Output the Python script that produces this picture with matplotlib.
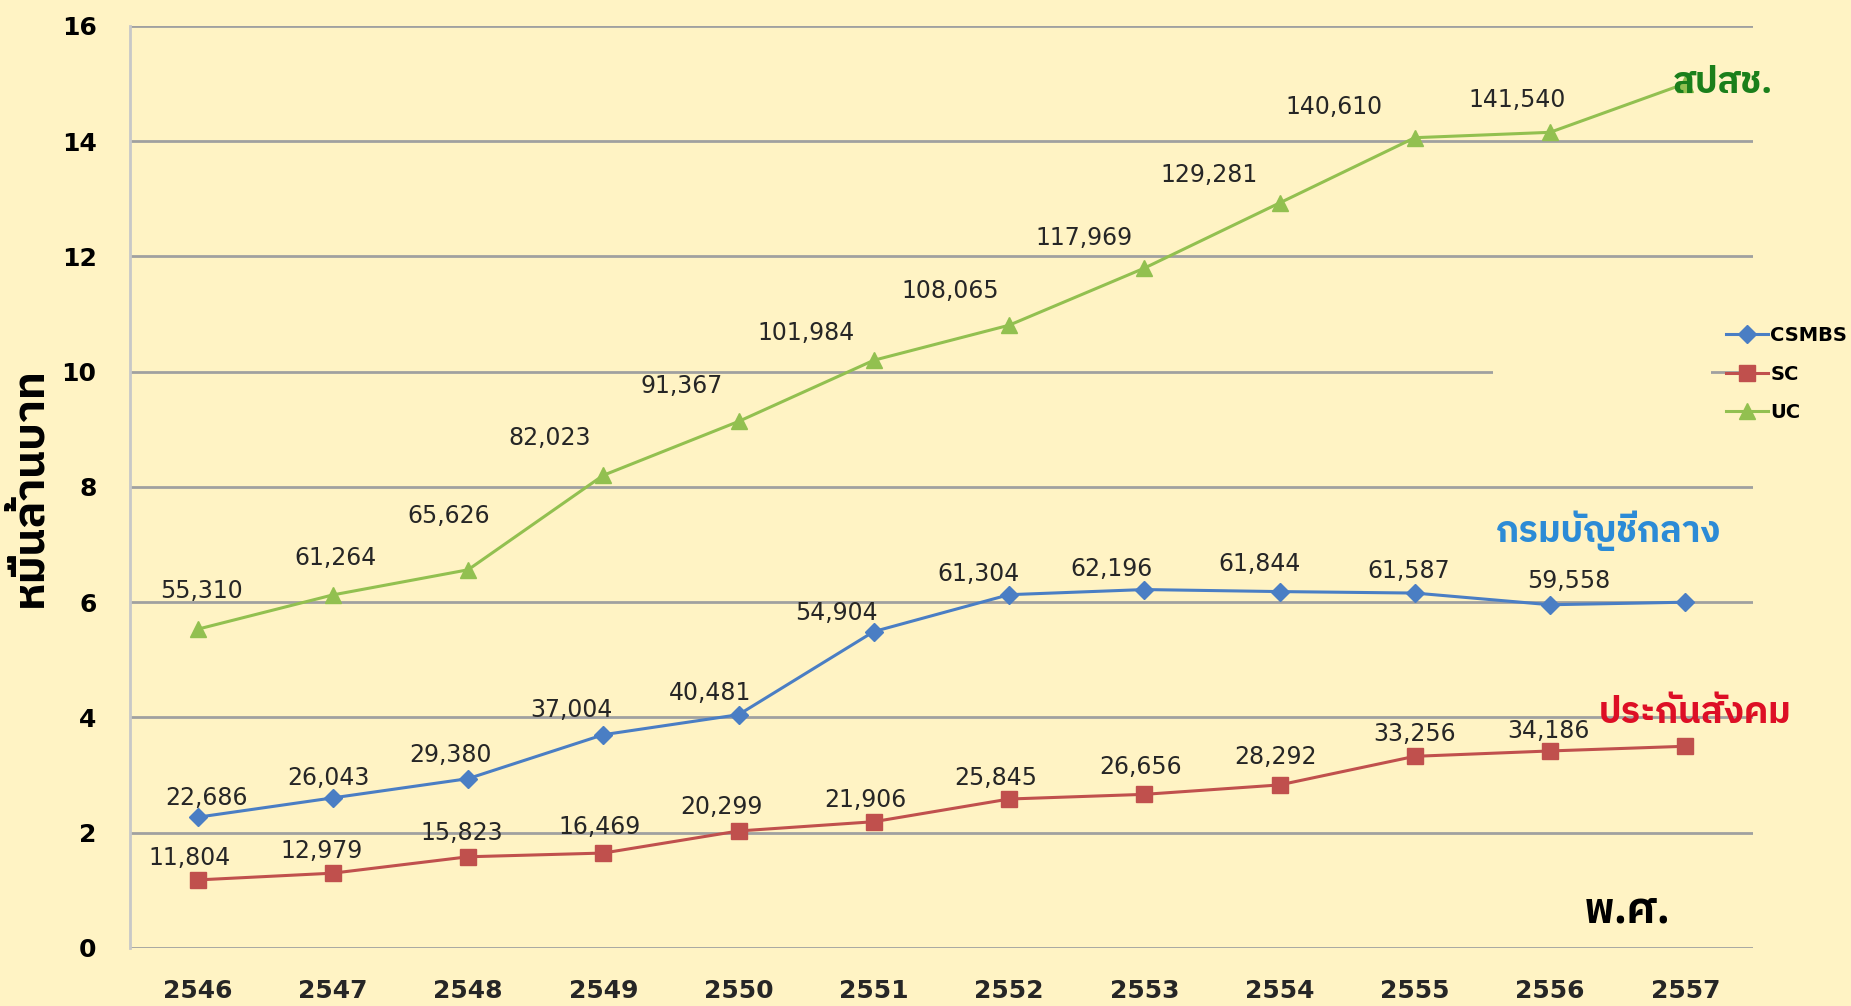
import numpy as np
import matplotlib
matplotlib.use('Agg')
import matplotlib.pyplot as plt
from matplotlib import font_manager
from matplotlib.ft2font import FT2Font
from matplotlib.patches import Rectangle


# ----- data (million baht) -----
years = ['2546', '2547', '2548', '2549', '2550', '2551',
         '2552', '2553', '2554', '2555', '2556', '2557']
csmbs = [22686, 26043, 29380, 37004, 40481, 54904,
         61304, 62196, 61844, 61587, 59558, 60000]
sc = [11804, 12979, 15823, 16469, 20299, 21906,
      25845, 26656, 28292, 33256, 34186, 35000]
uc = [55310, 61264, 65626, 82023, 91367, 101984,
      108065, 117969, 129281, 140610, 141540, 150000]
n_labelled = 11  # last year has no value label

# label offsets in pixels (dx, dy) - hand placed like the original
off_csmbs = [(9, 19), (-4, 20), (-18, 24), (-32, 25), (-28, 22), (-37, 19),
             (-31, 21), (-33, 21), (-20, 28), (-6, 22), (19, 24)]
off_sc = [(-8, 22), (-11, 22), (-6, 24), (-4, 26), (-17, 24), (-8, 22),
          (-13, 21), (-4, 27), (-4, 28), (0, 22), (-2, 20)]
off_uc = [(4, 38), (3, 37), (-19, 54), (-54, 37), (-57, 35), (-68, 27),
          (-59, 34), (-60, 30), (-70, 28), (-81, 31), (-33, 32)]

bg = '#FFF3C4'


def thai_family():
    # find an installed font that has Thai glyphs
    cands = sorted(font_manager.fontManager.ttflist,
                   key=lambda f: ('Thai' not in f.name, f.name))
    for f in cands:
        try:
            if 0x0E01 in FT2Font(f.fname).get_charmap():
                return f.name
        except Exception:
            pass
    return 'DejaVu Sans'


thai = [thai_family(), 'DejaVu Sans']
narrow = ['DejaVu Sans']

fig = plt.figure(figsize=(18.51, 10.06), dpi=100, facecolor=bg)
ax = fig.add_axes([0.0702, 0.0577, 0.8768, 0.9165])
ax.set_facecolor(bg)

x = np.arange(len(years))
to_unit = lambda v: np.array(v) / 10000.0

series = [
    ('CSMBS', csmbs, '#4A7EC4', 'D', 9, off_csmbs),
    ('SC', sc, '#C0504D', 's', 11, off_sc),
    ('UC', uc, '#92C050', '^', 11, off_uc),
]
for name, vals, col, mk, ms, offs in series:
    yv = to_unit(vals)
    ax.plot(x, yv, color=col, lw=2.2, marker=mk, ms=ms, label=name, zorder=3)
    for i in range(n_labelled):
        ax.annotate(f'{vals[i]:,}', (x[i], yv[i]), xytext=offs[i],
                    textcoords='offset pixels', ha='center', va='center',
                    fontsize=17, color='#262626', family=narrow, zorder=4)

ax.set_xlim(-0.5, len(years) - 0.5)
ax.set_ylim(0, 16)
ax.set_yticks(np.arange(0, 17, 2))
ax.set_xticks(x)
ax.set_xticklabels(years)
ax.yaxis.grid(True, color='#A0A0A0', lw=2)
ax.set_axisbelow(True)
for s in ['top', 'right', 'bottom']:
    ax.spines[s].set_visible(False)
ax.spines['left'].set_color('#C8C8C8')
ax.spines['left'].set_linewidth(2)
ax.tick_params(length=0)
ax.tick_params(axis='y', pad=24)
ax.tick_params(axis='x', pad=22)
for t in ax.get_yticklabels():
    t.set_fontsize(18)
    t.set_fontweight('bold')
    t.set_family(narrow)
for t in ax.get_xticklabels():
    t.set_fontsize(18)
    t.set_fontweight('bold')
    t.set_family(narrow)
    t.set_color('#262626')

ax.set_ylabel('หมื่นล้านบาท', fontsize=32, fontweight='bold', family=thai,
              labelpad=8)

# series captions
ax.text(11.28, 15.0, 'สปสช.', color='#1B7F1B', fontsize=26, fontweight='bold',
        family=thai, ha='center', va='center', zorder=5)
ax.text(10.43, 7.24, 'กรมบัญชีกลาง', color='#2C8BD6', fontsize=26,
        fontweight='bold', family=thai, ha='center', va='center')
ax.text(11.07, 4.06, 'ประกันสังคม', color='#DD0F25', fontsize=26,
        fontweight='bold', family=thai, ha='center', va='center')
ax.text(10.57, 0.62, 'พ.ศ.', color='black', fontsize=30, fontweight='bold',
        family=thai, ha='center', va='center')

# legend box hides part of the 10 gridline in the original
ax.add_patch(Rectangle((9.58, 9.8), 1.61, 0.4, facecolor=bg, edgecolor='none',
                       zorder=2))
leg = fig.legend(loc='center left', bbox_to_anchor=(0.927, 0.628),
                 frameon=False, fontsize=14, handlelength=2.2,
                 handletextpad=0.1, labelspacing=1.0, borderpad=0)
for t in leg.get_texts():
    t.set_fontweight('bold')
    t.set_family(narrow)

plt.savefig('out.png', dpi=100, facecolor=bg)
